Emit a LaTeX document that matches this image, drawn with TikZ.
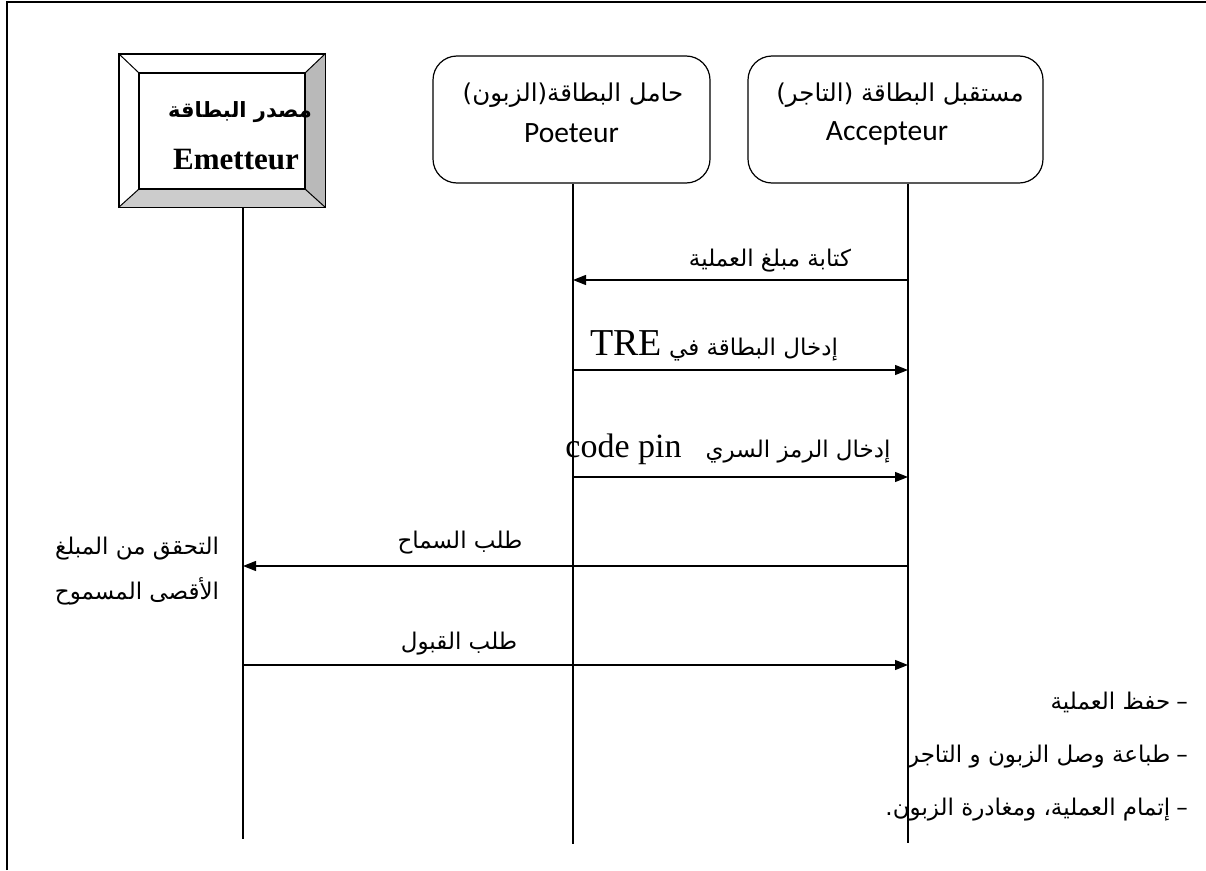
\documentclass[tikz,border=0pt]{standalone}
\usepackage{fontspec}
\usetikzlibrary{arrows.meta}
\TeXXeTstate=1
\newfontfamily\arfont[Script=Arabic]{DejaVu Sans}
\newfontfamily\serfont{Liberation Serif}
\newfontfamily\calfont{Carlito}
\newcommand\rtl[1]{\beginR #1\endR}
\newcommand\ltr[1]{\beginL #1\endL{}}

\tikzset{
  actor/.style={draw, line width=1.2pt, rounded corners=24pt,
                minimum width=#1, minimum height=127pt, inner sep=0pt},
  life/.style={line width=1.3pt},
  msg/.style={line width=1.3pt, -{Triangle[length=13pt,width=10pt]}},
  arlbl/.style={font=\arfont\fontsize{23}{26}\selectfont, inner sep=0pt},
  boxar/.style={font=\arfont\fontsize{24.5}{28}\selectfont, inner sep=0pt},
  boxlat/.style={font=\calfont\fontsize{29.5}{32}\selectfont, inner sep=0pt},
}

\begin{document}
\begin{tikzpicture}[x=1pt,y=-1pt]
\useasboundingbox (0,0) rectangle (1206,870);

% page frame
\draw[line width=2.5pt] (7,870) -- (7,2) -- (1206,2);

% card issuer: bevelled box
\node[draw, line width=1.3pt, minimum width=206pt, minimum height=153pt, inner sep=0pt]
  (em) at (222,130.5) {};
\fill[gray!55] (305,73) -- (em.north east) -- (em.south east) -- (305,189) -- cycle;
\fill[gray!40] (139,189) -- (305,189) -- (em.south east) -- (em.south west) -- cycle;
\draw[line width=1.2pt] (em.north west) rectangle (em.south east);
\draw[line width=1.2pt] (139,73) rectangle (305,189);
\draw[line width=1pt] (em.north west) -- (139,73) (em.north east) -- (305,73)
  (em.south west) -- (139,189) (em.south east) -- (305,189);
\node[font=\arfont\bfseries\fontsize{21}{24}\selectfont, inner sep=0pt] (emar) at (240,112) {\rtl{مصدر البطاقة}};
\node[font=\serfont\bfseries\fontsize{31}{34}\selectfont, inner sep=0pt] (emla) at (236,160) {Emetteur};

% card holder and card acceptor
\node[actor=277pt] (po) at (571.5,119.5) {};
\node[boxar] (poar) at (573,95) {\rtl{حامل البطاقة(الزبون)}};
\node[boxlat] (pola) at (571.5,133) {Poeteur};

\node[actor=295pt] (ac) at (895.5,119.5) {};
\node[boxar] (acar) at (900,95) {\rtl{مستقبل البطاقة (التاجر)}};
\node[boxlat] (acla) at (887,133) {Accepteur};

% lifelines
\coordinate (eEnd) at (243,839);
\coordinate (pEnd) at (573,844);
\coordinate (aEnd) at (908,843);
\draw[life] (em.south -| eEnd) -- (eEnd);
\draw[life] (po.south -| pEnd) -- (pEnd);
\draw[life] (ac.south -| aEnd) -- (aEnd);

% message end points
\coordinate (a1) at (908,280); \coordinate (p1) at (573,280);
\coordinate (p2) at (573,370); \coordinate (a2) at (908,370);
\coordinate (p3) at (573,477); \coordinate (a3) at (908,477);
\coordinate (a4) at (908,566); \coordinate (e4) at (243,566);
\coordinate (e5) at (243,665); \coordinate (a5) at (908,665);

\draw[msg] (a1) -- (p1);
\draw[msg] (p2) -- (a2);
\draw[msg] (p3) -- (a3);
\draw[msg] (a4) -- (e4);
\draw[msg] (e5) -- (a5);

% message labels
\node[arlbl] (m1) at (770,261) {\rtl{كتابة مبلغ العملية}};
\node[arlbl] (m2) at (714,346) {\rtl{إدخال البطاقة في {\serfont\fontsize{38}{40}\selectfont\ltr{TRE}}}};
\node[arlbl] (m3) at (728,449) {\rtl{إدخال الرمز السري\hspace{24pt}{\serfont\fontsize{34}{38}\selectfont\ltr{code pin}}}};
\node[arlbl] (m4) at (460,543) {\rtl{طلب السماح}};
\node[arlbl] (m5) at (459,644) {\rtl{طلب القبول}};

% check done by the issuer
\node[arlbl] (chk1) at (137,549) {\rtl{التحقق من المبلغ}};
\node[arlbl] (chk2) at (137,591) {\rtl{الأقصى المسموح}};

% closing steps at the acceptor
\node[arlbl, anchor=east] (s1) at (1188,702) {\rtl{–\hspace{6pt}حفظ العملية}};
\node[arlbl, anchor=east] (s2) at (1188,757) {\rtl{–\hspace{6pt}طباعة وصل الزبون و التاجر}};
\node[arlbl, anchor=east] (s3) at (1188,810) {\rtl{–\hspace{6pt}إتمام العملية، ومغادرة الزبون.}};
\end{tikzpicture}
\end{document}
